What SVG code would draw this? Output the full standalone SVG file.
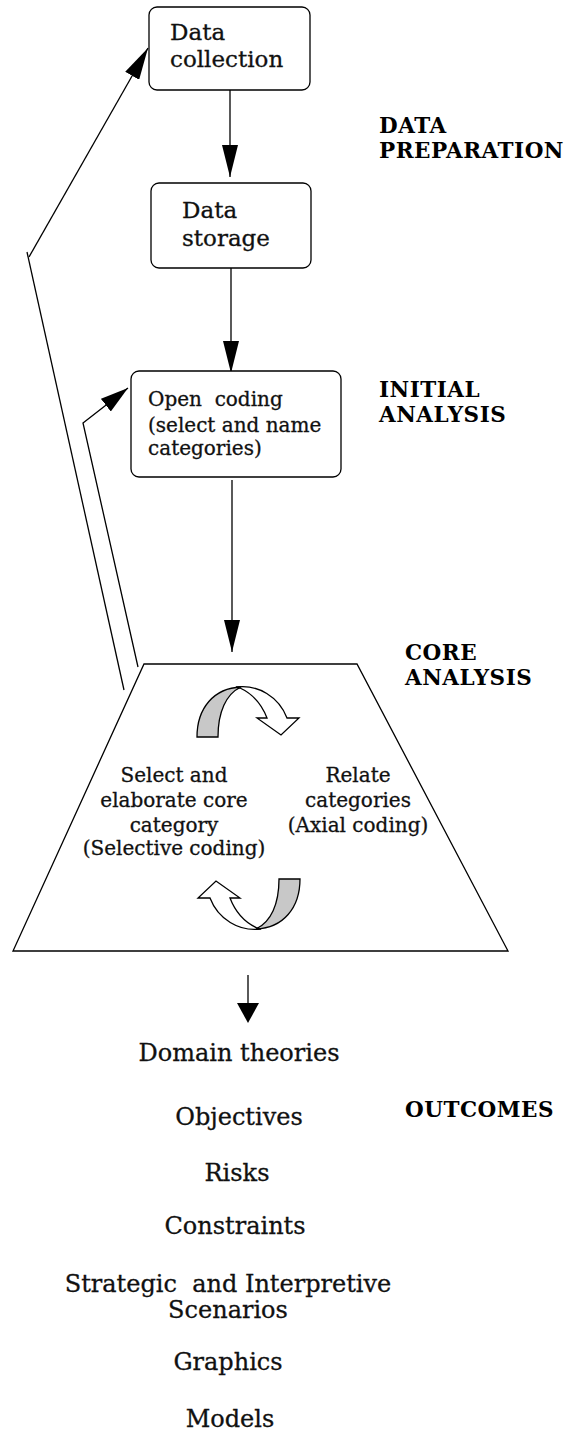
<svg xmlns="http://www.w3.org/2000/svg" width="577" height="1431" viewBox="0 0 577 1431">
<style>
  .box { fill: #fff; stroke: #000; stroke-width: 1.3; }
  .ln { fill: none; stroke: #000; stroke-width: 1.3; }
  .t { font-family: "DejaVu Serif", serif; fill: #111; stroke: #111; stroke-width: 0.3; }
  .big { font-size: 23px; }
  .out { font-size: 24px; }
  .small { font-size: 20px; }
  .lab { font-family: "DejaVu Serif", serif; font-weight: bold; font-size: 21.5px; letter-spacing: 0.5px; fill: #000; }
  .mid { text-anchor: middle; }
</style>
<defs>
  <marker id="ah" markerUnits="userSpaceOnUse" viewBox="0 0 32 16" refX="32" refY="8" markerWidth="32" markerHeight="16" orient="auto">
    <path d="M0,0 L32,8 L0,16 Z" fill="#000"/>
  </marker>
  <marker id="ahs" markerUnits="userSpaceOnUse" viewBox="0 0 28 16" refX="28" refY="8" markerWidth="28" markerHeight="16" orient="auto">
    <path d="M0,0 L28,8 L0,16 Z" fill="#000"/>
  </marker>
  <g id="cyc">
    <path d="M236,687 C258,684 279,697 287,718 L299,718 L281,735 L257,718 L267,718 C262,705 253,694 240,688 Z" fill="#fff" stroke="#000" stroke-width="1.3"/>
    <path d="M197,737 C197,708 214,688 241,687 C226,694 218,712 218,737 Z" fill="#c8c8c8" stroke="#000" stroke-width="1.3"/>
  </g>
</defs>

<g id="connectors">
  <line class="ln" x1="230" y1="90" x2="230" y2="177" marker-end="url(#ah)"/>
  <line class="ln" x1="231" y1="268" x2="231" y2="373" marker-end="url(#ah)"/>
  <line class="ln" x1="232" y1="480" x2="232" y2="652" marker-end="url(#ah)"/>
  <line class="ln" x1="124" y1="690" x2="27" y2="252"/>
  <line class="ln" x1="29" y1="257" x2="148" y2="48" marker-end="url(#ah)"/>
  <polyline class="ln" points="138,667 83,423 128,388" marker-end="url(#ahs)"/>
  <line class="ln" x1="248" y1="975" x2="248" y2="1005"/>
  <path d="M237,1003 L259,1003 L248,1023 Z" fill="#000"/>
</g>

<g id="data-collection">
  <rect class="box" x="149" y="7" width="161" height="83" rx="8"/>
  <text class="t big" x="170" y="40">Data</text>
  <text class="t big" x="170" y="67">collection</text>
</g>

<g id="data-storage">
  <rect class="box" x="151" y="183" width="160" height="85" rx="8"/>
  <text class="t big" x="182" y="218">Data</text>
  <text class="t big" x="182" y="246">storage</text>
</g>

<g id="open-coding">
  <rect class="box" x="131" y="371" width="210" height="106" rx="8"/>
  <text class="t small" x="148" y="406" xml:space="preserve">Open  coding</text>
  <text class="t small" x="148" y="432">(select and name</text>
  <text class="t small" x="148" y="455">categories)</text>
</g>

<g id="core-analysis">
  <polygon class="box" points="144,664 357,664 508,951 13,951"/>
  <use href="#cyc"/>
  <use href="#cyc" transform="rotate(180 248.5 808)"/>
  <text class="t small mid" x="174" y="782">Select and</text>
  <text class="t small mid" x="174" y="807">elaborate core</text>
  <text class="t small mid" x="174" y="832">category</text>
  <text class="t small mid" x="174" y="855">(Selective coding)</text>
  <text class="t small mid" x="358" y="782">Relate</text>
  <text class="t small mid" x="358" y="807">categories</text>
  <text class="t small mid" x="358" y="832">(Axial coding)</text>
</g>

<g id="stage-labels">
  <text class="lab" x="379" y="133">DATA</text>
  <text class="lab" x="379" y="158">PREPARATION</text>
  <text class="lab" x="379" y="397">INITIAL</text>
  <text class="lab" x="379" y="422">ANALYSIS</text>
  <text class="lab" x="405" y="660">CORE</text>
  <text class="lab" x="405" y="685">ANALYSIS</text>
  <text class="lab" x="405" y="1117">OUTCOMES</text>
</g>

<g id="outcomes">
  <text class="t out mid" x="239" y="1061">Domain theories</text>
  <text class="t out mid" x="239" y="1125">Objectives</text>
  <text class="t out mid" x="237" y="1181">Risks</text>
  <text class="t out mid" x="235" y="1234">Constraints</text>
  <text class="t out mid" x="228" y="1292" xml:space="preserve">Strategic  and Interpretive</text>
  <text class="t out mid" x="228" y="1318">Scenarios</text>
  <text class="t out mid" x="228" y="1370">Graphics</text>
  <text class="t out mid" x="230" y="1427">Models</text>
</g>
</svg>
